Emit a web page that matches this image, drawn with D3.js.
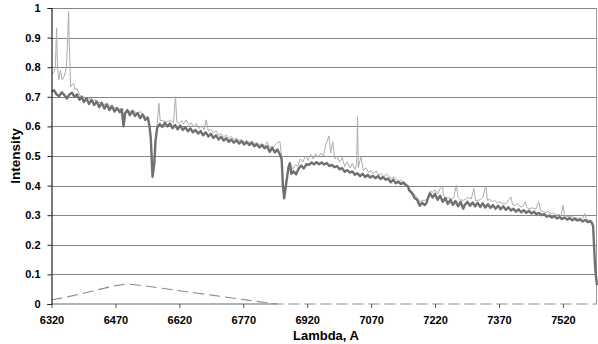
<!DOCTYPE html>
<html>
<head>
<meta charset="utf-8">
<script src="https://cdn.jsdelivr.net/npm/d3@7"></script>
<style>
body { margin: 0; background: #fff; }
svg { display: block; font-family: 'Liberation Sans', Arial, sans-serif; }
</style>
</head>
<body>
<div id="chart"></div>
<script>
// axis ticks
const xTicks = [6320, 6470, 6620, 6770, 6920, 7070, 7220, 7370, 7520]
const yTicks = [0, 0.1, 0.2, 0.3, 0.4, 0.5, 0.6, 0.7, 0.8, 0.9, 1]

// [lambda, intensity] - thick dark spectrum
const darkSeries = [
    [6320, .717], [6326, .722], [6332, .708], [6338, .702], [6344, .715], [6350, .706], [6356, .694], [6362, .708],
    [6368, .714], [6374, .700], [6380, .708], [6386, .690], [6391, .700], [6396, .682], [6402, .695], [6408, .676],
    [6414, .690], [6420, .672], [6426, .684], [6432, .665], [6438, .680], [6444, .660], [6450, .675], [6456, .655],
    [6462, .668], [6468, .650], [6474, .662], [6480, .648], [6485, .658], [6489, .600], [6493, .645], [6498, .655],
    [6504, .638], [6510, .652], [6516, .635], [6522, .645], [6528, .628], [6534, .640], [6540, .622], [6546, .630],
    [6550, .600], [6553, .560], [6557, .430], [6561, .470], [6564, .550], [6568, .595], [6574, .608], [6580, .598],
    [6586, .612], [6592, .600], [6598, .610], [6604, .594], [6610, .605], [6616, .590], [6622, .603], [6628, .588],
    [6634, .597], [6640, .584], [6646, .593], [6652, .580], [6658, .588], [6664, .576], [6670, .584], [6676, .570],
    [6682, .580], [6688, .566], [6694, .575], [6700, .561], [6706, .570], [6712, .556], [6718, .565], [6724, .552],
    [6730, .560], [6736, .548], [6742, .556], [6748, .545], [6754, .553], [6760, .542], [6766, .550], [6772, .539],
    [6778, .547], [6784, .537], [6790, .545], [6796, .533], [6802, .540], [6808, .529], [6814, .537], [6820, .526],
    [6826, .533], [6832, .514], [6838, .528], [6844, .512], [6850, .522], [6856, .505], [6860, .490], [6863, .400],
    [6866, .357], [6869, .390], [6872, .420], [6876, .460], [6879, .475], [6883, .440], [6888, .448], [6894, .438],
    [6900, .458], [6906, .468], [6912, .458], [6918, .472], [6924, .470], [6930, .478], [6936, .472], [6942, .479],
    [6948, .472], [6954, .478], [6960, .471], [6966, .476], [6972, .466], [6978, .470], [6984, .462], [6990, .466],
    [6996, .455], [7002, .459], [7008, .447], [7014, .452], [7020, .444], [7026, .448], [7032, .437], [7038, .442],
    [7044, .432], [7050, .440], [7056, .429], [7062, .436], [7068, .427], [7074, .433], [7080, .425], [7086, .432],
    [7092, .422], [7098, .429], [7104, .420], [7110, .424], [7116, .411], [7122, .420], [7128, .408], [7134, .413],
    [7140, .405], [7146, .410], [7152, .400], [7156, .398], [7160, .382], [7166, .375], [7172, .358], [7178, .352],
    [7184, .332], [7190, .342], [7196, .334], [7200, .342], [7204, .360], [7208, .374], [7214, .360], [7220, .372],
    [7226, .352], [7232, .366], [7238, .345], [7244, .358], [7250, .338], [7256, .352], [7262, .335], [7268, .348],
    [7274, .330], [7280, .345], [7286, .322], [7290, .335], [7296, .345], [7302, .332], [7308, .343], [7314, .330],
    [7320, .342], [7326, .328], [7332, .340], [7338, .326], [7344, .337], [7350, .325], [7356, .334], [7362, .322],
    [7368, .332], [7374, .320], [7380, .330], [7386, .318], [7392, .327], [7398, .316], [7404, .322], [7410, .312],
    [7416, .320], [7422, .310], [7428, .317], [7434, .308], [7440, .315], [7446, .306], [7452, .312], [7458, .303],
    [7464, .308], [7470, .300], [7476, .304], [7482, .295], [7488, .299], [7494, .292], [7500, .297], [7506, .289],
    [7512, .294], [7518, .287], [7524, .292], [7530, .285], [7536, .290], [7542, .283], [7548, .288], [7554, .282],
    [7560, .286], [7566, .279], [7572, .284], [7578, .277], [7584, .280], [7588, .274], [7591, .262], [7593, .200],
    [7595, .140], [7597, .100], [7600, .064]
]

// [lambda, intensity] - thin light spectrum with emission spikes
const lightSeries = [
    [6320, .775], [6326, .785], [6329, .800], [6332, .932], [6334, .800], [6337, .757], [6341, .790], [6345, .757],
    [6350, .770], [6355, .800], [6358, .900], [6360, .988], [6362, .870], [6365, .734], [6368, .740], [6372, .745],
    [6376, .723], [6380, .728], [6386, .706], [6392, .700], [6398, .698], [6404, .690], [6410, .695], [6416, .684],
    [6422, .690], [6428, .678], [6434, .682], [6440, .672], [6446, .676], [6452, .665], [6458, .670], [6464, .660],
    [6470, .665], [6476, .655], [6482, .660], [6489, .640], [6496, .655], [6504, .650], [6512, .655], [6520, .644],
    [6528, .650], [6536, .640], [6544, .630], [6550, .610], [6553, .560], [6557, .440], [6561, .480], [6564, .560],
    [6568, .610], [6572, .678], [6575, .620], [6580, .620], [6590, .615], [6600, .620], [6606, .612], [6611, .700],
    [6614, .615], [6620, .610], [6626, .620], [6630, .608], [6636, .622], [6642, .605], [6648, .612], [6654, .598],
    [6660, .610], [6666, .592], [6672, .603], [6678, .588], [6683, .622], [6688, .585], [6694, .590], [6700, .578],
    [6706, .585], [6712, .570], [6718, .575], [6724, .565], [6730, .570], [6736, .560], [6742, .566], [6748, .556],
    [6754, .560], [6760, .552], [6766, .556], [6772, .548], [6778, .552], [6784, .546], [6790, .550], [6796, .542],
    [6802, .545], [6808, .538], [6814, .542], [6820, .535], [6826, .548], [6830, .532], [6840, .530], [6850, .545],
    [6856, .548], [6860, .500], [6863, .400], [6866, .360], [6869, .400], [6872, .430], [6876, .470], [6880, .480],
    [6886, .455], [6892, .470], [6898, .465], [6904, .490], [6910, .480], [6916, .500], [6922, .485], [6928, .505],
    [6934, .490], [6940, .508], [6946, .495], [6952, .510], [6958, .500], [6964, .540], [6971, .568], [6975, .510],
    [6980, .548], [6985, .490], [6990, .500], [6996, .480], [7002, .495], [7008, .465], [7014, .480], [7020, .460],
    [7026, .475], [7032, .455], [7036, .470], [7038, .633], [7040, .460], [7046, .498], [7052, .450], [7058, .460],
    [7064, .445], [7070, .450], [7076, .440], [7082, .450], [7088, .435], [7094, .440], [7100, .430], [7106, .440],
    [7112, .430], [7118, .425], [7124, .430], [7130, .420], [7136, .415], [7142, .418], [7148, .410], [7154, .405],
    [7160, .390], [7166, .378], [7172, .370], [7178, .360], [7184, .345], [7190, .350], [7196, .350], [7202, .355],
    [7208, .380], [7214, .378], [7220, .385], [7226, .372], [7232, .390], [7237, .400], [7240, .365], [7246, .358],
    [7252, .360], [7258, .355], [7264, .360], [7270, .402], [7274, .360], [7280, .352], [7286, .350], [7292, .355],
    [7298, .360], [7305, .355], [7311, .390], [7315, .350], [7320, .350], [7326, .352], [7332, .360], [7339, .399],
    [7343, .350], [7348, .355], [7354, .345], [7360, .350], [7366, .342], [7372, .345], [7378, .340], [7384, .338],
    [7390, .345], [7398, .362], [7402, .335], [7408, .332], [7414, .340], [7420, .328], [7426, .330], [7432, .345],
    [7436, .325], [7442, .322], [7448, .325], [7456, .320], [7463, .346], [7468, .315], [7474, .312], [7480, .310],
    [7486, .312], [7492, .305], [7498, .308], [7504, .300], [7510, .303], [7516, .298], [7520, .334], [7524, .298],
    [7530, .296], [7536, .295], [7542, .294], [7548, .292], [7554, .290], [7560, .290], [7566, .288], [7571, .306],
    [7575, .286], [7580, .284], [7586, .282], [7590, .275], [7593, .200], [7595, .140], [7597, .100], [7600, .064]
]

// [lambda, intensity] - dashed curve near zero
const dashedSeries = [
    [6320, .0135], [6360, .025], [6400, .038], [6440, .052], [6470, .062], [6490, .066], [6510, .066], [6540, .061],
    [6580, .053], [6620, .045], [6660, .037], [6700, .029], [6740, .021], [6780, .013], [6820, .005], [6850, 0],
    [7600, 0]
]

// solid zero segment under the dashed curve
const zeroSeries = [[6320, 0], [6850, 0]]

const width = 598
const height = 344
const padding = { top: 8, right: 1, bottom: 40, left: 51.5 }

const svg = d3.select('#chart').append('svg')
    .attr('width', width)
    .attr('height', height)

const x = d3.scaleLinear()
    .domain([6320, 7600])
    .range([padding.left, width - padding.right])
const y = d3.scaleLinear()
    .domain([0, 1])
    .range([height - padding.bottom, padding.top])

// horizontal gridlines
svg.append('g')
    .selectAll('line')
    .data(yTicks.filter(d => d > 0))
    .enter()
    .append('line')
    .attr('x1', padding.left)
    .attr('x2', width - padding.right)
    .attr('y1', d => Math.round(y(d)) + 0.5)
    .attr('y2', d => Math.round(y(d)) + 0.5)
    .attr('stroke', '#858585')
    .attr('stroke-width', 1.2)

// right border
svg.append('line')
    .attr('x1', width - padding.right - 0.5)
    .attr('x2', width - padding.right - 0.5)
    .attr('y1', padding.top)
    .attr('y2', height - padding.bottom)
    .attr('stroke', '#999')

const line = d3.line()
    .x(d => x(d[0]))
    .y(d => y(d[1]))

svg.append('path')
    .datum(zeroSeries)
    .attr('d', line)
    .attr('fill', 'none')
    .attr('stroke', '#666')
    .attr('stroke-width', 1.2)

svg.append('path')
    .datum(dashedSeries)
    .attr('d', line)
    .attr('fill', 'none')
    .attr('stroke', '#8c8c8c')
    .attr('stroke-width', 1.1)
    .attr('stroke-dasharray', '11,5')

svg.append('path')
    .datum(lightSeries)
    .attr('d', line)
    .attr('fill', 'none')
    .attr('stroke', '#adadad')
    .attr('stroke-width', 1)
    .attr('stroke-linejoin', 'round')

svg.append('path')
    .datum(darkSeries)
    .attr('d', line)
    .attr('fill', 'none')
    .attr('stroke', '#707070')
    .attr('stroke-width', 2.4)
    .attr('stroke-linejoin', 'round')

// y axis
const yAxis = svg.append('g')
    .attr('transform', `translate(${padding.left},0)`)
    .call(d3.axisLeft(y).tickValues(yTicks).tickSize(4).tickFormat(d => +d.toFixed(1)))
yAxis.select('.domain').attr('stroke', '#222').attr('stroke-width', 1.2)
yAxis.selectAll('.tick line').attr('stroke', '#222')
yAxis.selectAll('text')
    .attr('x', -11)
    .attr('fill', '#000')
    .attr('font-size', 11)
    .attr('font-weight', 'bold')
    .attr('font-family', "'Liberation Sans', Arial, sans-serif")

// x axis
const xAxis = svg.append('g')
    .attr('transform', `translate(0,${height - padding.bottom})`)
    .call(d3.axisBottom(x).tickValues(xTicks).tickSize(4).tickFormat(d => d))
xAxis.select('.domain').remove()
xAxis.selectAll('.tick line').attr('stroke', '#555')
xAxis.selectAll('text')
    .attr('y', 12.5)
    .attr('fill', '#000')
    .attr('font-size', 11)
    .attr('font-weight', 'bold')
    .attr('font-family', "'Liberation Sans', Arial, sans-serif")

// axis titles
svg.append('text')
    .attr('x', 326)
    .attr('y', 339.5)
    .attr('text-anchor', 'middle')
    .attr('font-size', 13)
    .attr('font-weight', 'bold')
    .text('Lambda, A')

svg.append('text')
    .attr('transform', 'translate(20,156)rotate(-90)')
    .attr('text-anchor', 'middle')
    .attr('font-size', 13.5)
    .attr('font-weight', 'bold')
    .text('Intensity')
</script>
</body>
</html>
